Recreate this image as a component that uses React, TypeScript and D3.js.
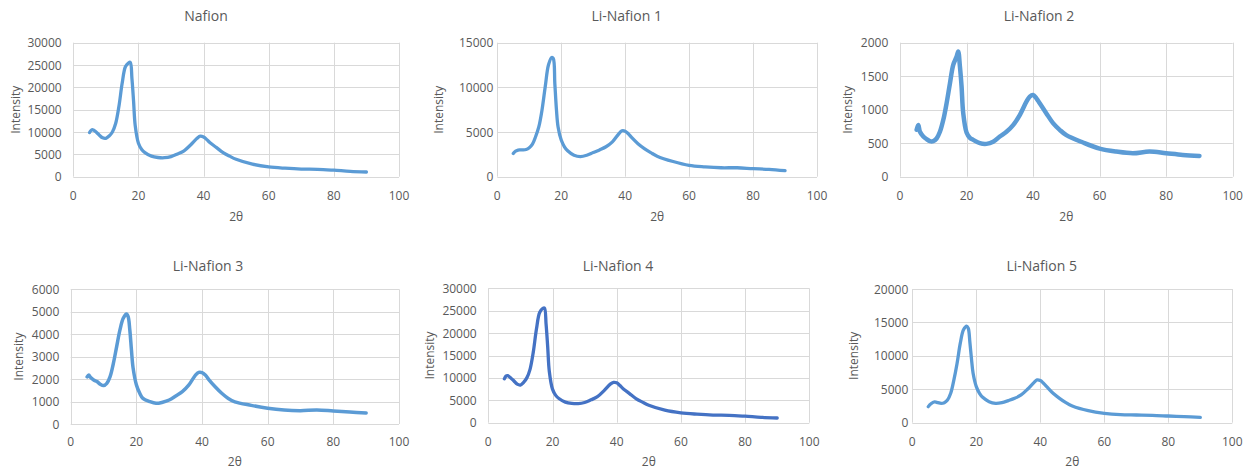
import * as d3 from "d3";

// 2θ sample positions shared by all six scans
const twoTheta = [
  5, 5.5, 6, 7, 8, 9, 10, 11, 12, 13, 14, 15, 16, 17, 17.5, 18, 18.5, 19, 20, 21, 22,
  24, 26, 28, 30, 32, 34, 36, 38, 39, 40, 41, 42, 44, 46, 48, 50, 55, 60, 65, 70, 75,
  80, 85, 90,
];

const nafion = [
  9900, 10400, 10500, 10000, 9300, 8700, 8600, 9100, 10000, 11900, 15700, 20900, 24600,
  25500, 25600, 22000, 17000, 11500, 7500, 6100, 5400, 4600, 4300, 4250, 4500, 5100,
  5800, 7100, 8600, 9100, 8900, 8300, 7600, 6500, 5400, 4600, 3900, 2800, 2200, 1900,
  1700, 1650, 1450, 1200, 1050,
];

const liNafion1 = [
  2600, 2800, 2900, 3000, 3000, 3050, 3250, 3650, 4500, 5600, 7500, 10100, 12500, 13350,
  13250, 10400, 7500, 5600, 4100, 3350, 2900, 2400, 2250, 2400, 2700, 3000, 3350, 3900,
  4800, 5150, 5100, 4800, 4400, 3700, 3150, 2700, 2300, 1700, 1270, 1100, 1000, 1000,
  900, 820, 670,
];

const liNafion2 = [
  700, 770, 670, 600, 560, 530, 530, 570, 670, 845, 1095, 1390, 1670, 1790, 1870, 1650,
  1350, 950, 660, 580, 550, 500, 490, 520, 600, 670, 770, 920, 1120, 1195, 1220, 1170,
  1095, 945, 800, 700, 620, 510, 420, 375, 350, 375, 350, 325, 310,
];

const liNafion3 = [
  2100, 2180, 2080, 1960, 1890, 1770, 1710, 1810, 2110, 2700, 3450, 4190, 4710, 4900,
  4780, 4200, 3300, 2500, 1750, 1380, 1140, 1000, 920, 970, 1070, 1250, 1440, 1740, 2180,
  2300, 2290, 2180, 1990, 1660, 1370, 1140, 990, 830, 700, 620, 595, 625, 580, 535, 490,
];

const liNafion4 = [
  9800, 10400, 10500, 10000, 9300, 8600, 8400, 9000, 10000, 11900, 15700, 20900, 24600,
  25500, 25600, 22000, 17000, 11500, 7500, 6100, 5400, 4600, 4300, 4250, 4500, 5100,
  5800, 7100, 8600, 9000, 8900, 8300, 7600, 6500, 5400, 4600, 3900, 2800, 2200, 1900,
  1700, 1650, 1450, 1200, 1050,
];

const liNafion5 = [
  2400, 2700, 2900, 3100, 3000, 2900, 3000, 3400, 4400, 6400, 8900, 11900, 13900, 14450,
  14100, 12000, 9500, 7400, 5400, 4400, 3800, 3150, 2900, 3000, 3300, 3650, 4150, 5000,
  6000, 6400, 6300, 5900, 5400, 4400, 3650, 3000, 2500, 1800, 1400, 1200, 1150, 1100,
  1000, 900, 800,
];

const titles = ["Nafion", "Li-Nafion 1", "Li-Nafion 2", "Li-Nafion 3", "Li-Nafion 4", "Li-Nafion 5"];
const series = [nafion, liNafion1, liNafion2, liNafion3, liNafion4, liNafion5];
const yMax = [30000, 15000, 2000, 6000, 30000, 20000];
const yStep = [5000, 5000, 500, 1000, 5000, 5000];
const xTicks = [0, 20, 40, 60, 80, 100];

// plot-area boxes and label anchors for each panel
const frames = [
  { l: 73.3, r: 399, t: 42.7, b: 176.7, tx: 206, ty: 15, yl: 15, gap: 11.6, xl: 195, xt: 216, color: "#5B9BD5", w: 3.3 },
  { l: 497.3, r: 817, t: 42.7, b: 176.7, tx: 626.7, ty: 15, yl: 438, gap: 4, xl: 195, xt: 216, color: "#5B9BD5", w: 3.3 },
  { l: 900, r: 1232.7, t: 42.7, b: 176.7, tx: 1039, ty: 15, yl: 847, gap: 11.7, xl: 195, xt: 216, color: "#5B9BD5", w: 4.5 },
  { l: 70.7, r: 399, t: 289.3, b: 424, tx: 208, ty: 265, yl: 18, gap: 11.4, xl: 441.7, xt: 461.7, color: "#5B9BD5", w: 3.5 },
  { l: 488.3, r: 809.3, t: 288.3, b: 422.7, tx: 618, ty: 265, yl: 429, gap: 11.6, xl: 441.7, xt: 461.7, color: "#4472C4", w: 3.3 },
  { l: 912.3, r: 1232.3, t: 289, b: 422.7, tx: 1041.7, ty: 265, yl: 853, gap: 4, xl: 441.7, xt: 461.7, color: "#5B9BD5", w: 3.3 },
];

const font = "'Open Sans', sans-serif";
const textColor = "#595959";
const grid = "#D9D9D9";

function Panel({ i }: { i: number }) {
  const f = frames[i];
  const x = d3.scaleLinear().domain([0, 100]).range([f.l, f.r]);
  const y = d3.scaleLinear().domain([0, yMax[i]]).range([f.b, f.t]);
  const yTicks = d3.range(0, yMax[i] + 1, yStep[i]);
  const pts: [number, number][] = twoTheta.map((t, k) => [t, series[i][k]]);
  const line = d3
    .line<[number, number]>()
    .x((d) => x(d[0]))
    .y((d) => y(d[1]))
    .curve(d3.curveCatmullRom.alpha(0.5));
  return (
    <g>
      <text x={f.tx} y={f.ty} textAnchor="middle" dominantBaseline="central" fontSize={14} fill={textColor}>
        {titles[i]}
      </text>
      {yTicks.map((v) => (
        <g key={"y" + v}>
          <line x1={f.l} x2={f.r} y1={Math.round(y(v)) + 0.5} y2={Math.round(y(v)) + 0.5} stroke={grid} />
          <text x={f.l - f.gap} y={y(v)} textAnchor="end" dominantBaseline="central" fontSize={12} fill={textColor}>
            {v}
          </text>
        </g>
      ))}
      {xTicks.map((v) => (
        <g key={"x" + v}>
          <line x1={Math.round(x(v)) + 0.5} x2={Math.round(x(v)) + 0.5} y1={f.t} y2={f.b} stroke={grid} />
          <text x={x(v)} y={f.xl} textAnchor="middle" dominantBaseline="central" fontSize={12} fill={textColor}>
            {v}
          </text>
        </g>
      ))}
      <path d={line(pts) ?? ""} fill="none" stroke={f.color} strokeWidth={f.w} strokeLinejoin="round" strokeLinecap="round" />
      <text x={(f.l + f.r) / 2} y={f.xt} textAnchor="middle" dominantBaseline="central" fontSize={12} fill={textColor}>
        2θ
      </text>
      <text
        transform={`translate(${f.yl},${(f.t + f.b) / 2}) rotate(-90)`}
        textAnchor="middle"
        dominantBaseline="central"
        fontSize={12}
        fill={textColor}
      >
        Intensity
      </text>
    </g>
  );
}

export default function App() {
  return (
    <svg
      width={1251}
      height={470}
      viewBox="0 0 1251 470"
      style={{ position: "absolute", left: 0, top: 0, background: "#fff" }}
      fontFamily={font}
    >
      <rect width={1251} height={470} fill="#fff" />
      {titles.map((_, i) => (
        <Panel key={i} i={i} />
      ))}
    </svg>
  );
}
